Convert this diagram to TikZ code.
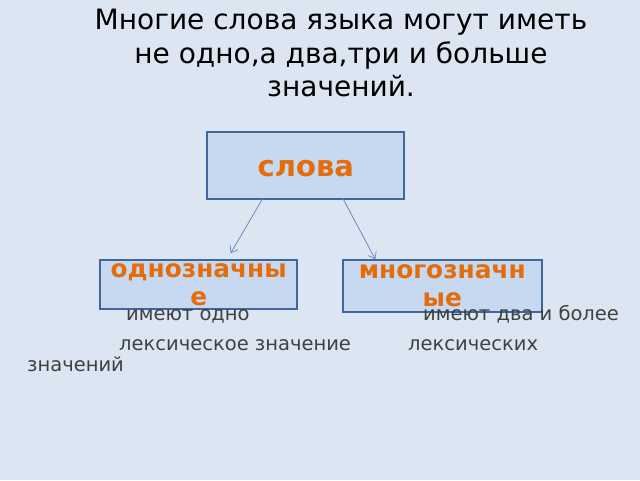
\documentclass[tikz,border=0pt]{standalone}
\usepackage{fontspec}
\setmainfont{DejaVu Sans}
\usetikzlibrary{positioning,calc,arrows.meta}
\definecolor{slidebg}{HTML}{DCE6F2}
\definecolor{boxfill}{HTML}{C6D9F1}
\definecolor{boxline}{HTML}{41679A}
\definecolor{wordorange}{HTML}{E46C0A}
\definecolor{linkblue}{HTML}{5A83BC}
\definecolor{bodygray}{HTML}{404040}
\begin{document}
\begin{tikzpicture}
[
x=1pt, y=-1pt,
wordbox/.style={rectangle, draw=boxline, fill=boxfill, line width=2pt, inner sep=0pt, align=center, text=wordorange, font=\fontsize{24.8}{28}\selectfont\bfseries},
titletext/.style={align=center, inner sep=0pt, font=\fontsize{28}{33.7}\selectfont},
bodytext/.style={anchor=base west, inner sep=0pt, text=bodygray, font=\fontsize{19.5}{22}\selectfont},
linkarrow/.style={draw=linkblue, line width=0.7pt, -{Straight Barb[length=6pt, width=9pt]}},
]
\useasboundingbox[fill=slidebg] (0,0) rectangle (640,480);
%draw the title
\node[titletext, anchor=north] (title) at (341,8.9) {Многие слова языка могут иметь\\не одно,а два,три и больше\\значений.};
%draw the boxes
\node[wordbox, minimum width=197pt, minimum height=67pt, text height=22pt, font=\fontsize{29}{32}\selectfont\bfseries] (words) at (305.8,165.8) {слова};
\node[wordbox, minimum width=197pt, minimum height=49pt] (single) at (198.7,284.7) {однозначны\\е};
\node[wordbox, minimum width=199pt, minimum height=51.5pt] (multi) at (442.3,286) {многозначн\\ые};
%draw the arrows
\coordinate (singlefrom) at ($(words.south)+(-43,-2)$);
\coordinate (singleto) at ($(single.north)+(32,-6)$);
\coordinate (multifrom) at ($(words.south)+(37,-2)$);
\coordinate (multito) at ($(multi.north)+(-67,0)$);
\draw[linkarrow] (singlefrom) -- (singleto);
\draw[linkarrow] (multifrom) -- (multito);
%draw the text below
\node[bodytext] (singleone) at (126,320.7) {имеют одно};
\node[bodytext] (multione) at (423,320.7) {имеют два и более};
\node[bodytext] (singletwo) at (119,350) {лексическое значение};
\node[bodytext] (multitwo) at (408,350) {лексических};
\node[bodytext] (multithree) at (27,371.7) {значений};
\end{tikzpicture}
\end{document}
